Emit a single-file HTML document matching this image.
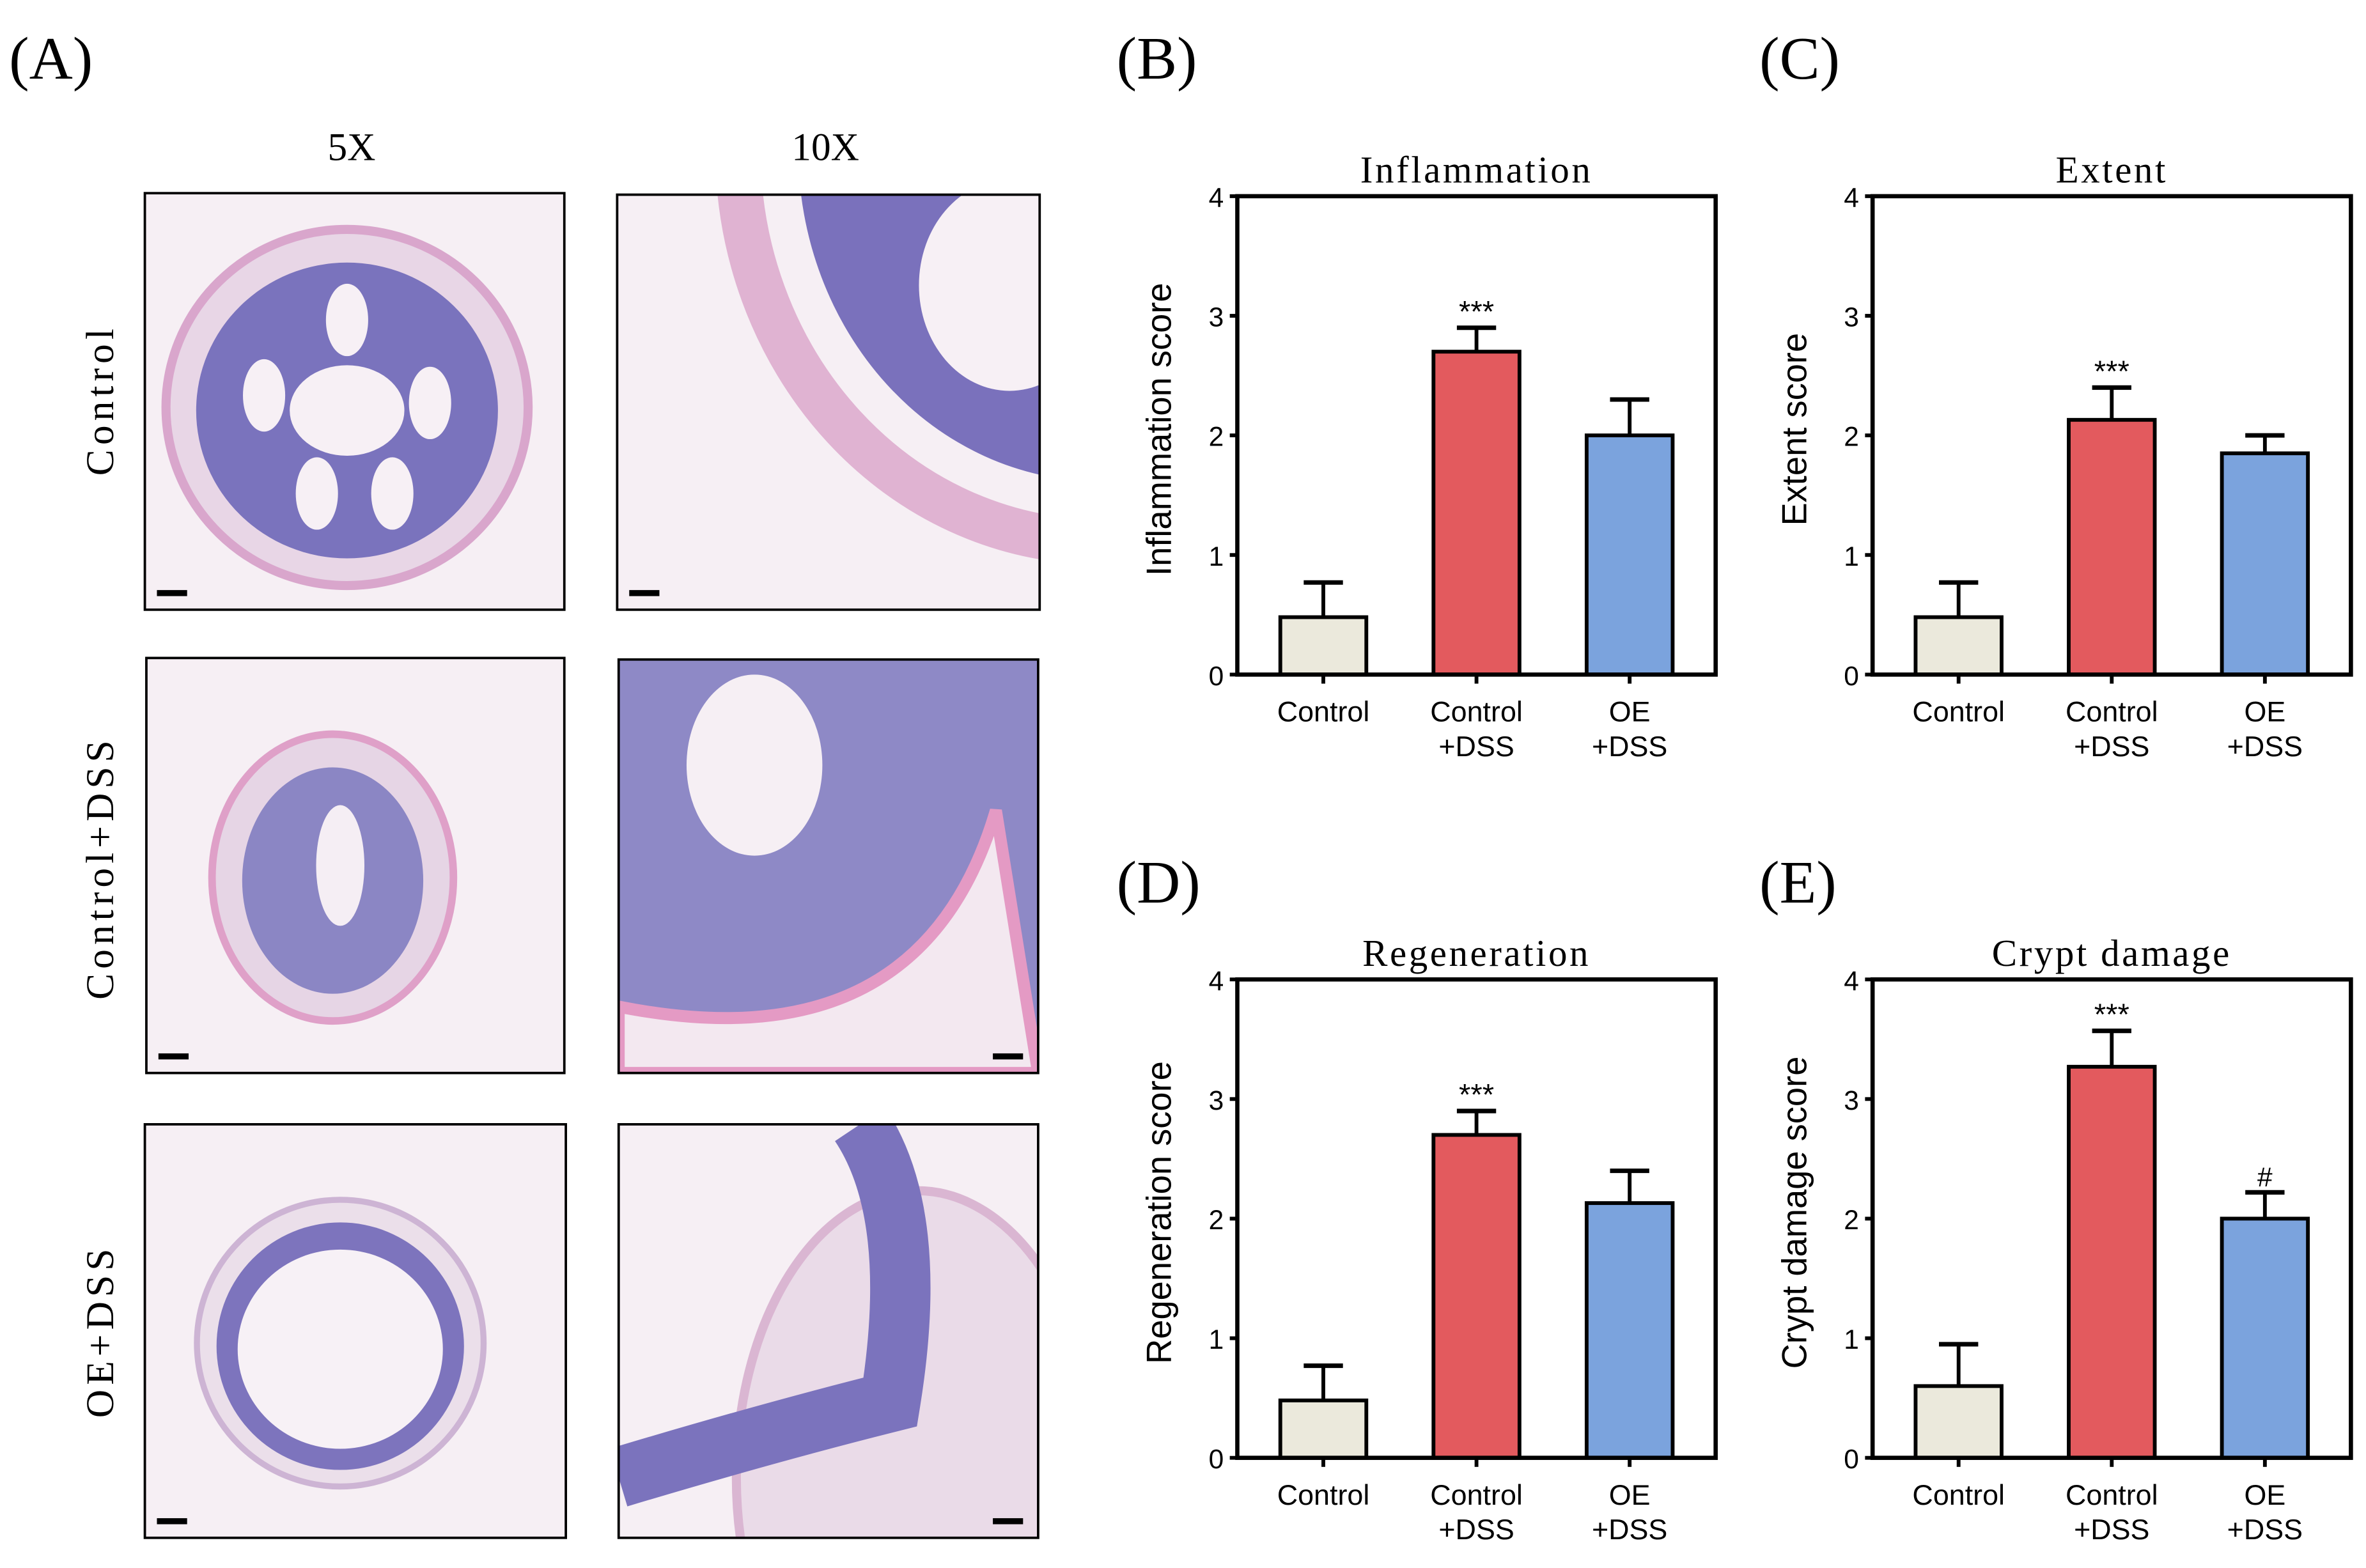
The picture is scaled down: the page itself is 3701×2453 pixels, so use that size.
<!DOCTYPE html>
<html><head><meta charset="utf-8"><style>
html,body{margin:0;padding:0;background:#fff;width:3701px;height:2453px;overflow:hidden;}
svg{display:block;}
</style></head><body>
<svg id="fig" width="3701" height="2453" viewBox="0 0 1568 1039" preserveAspectRatio="none" xmlns="http://www.w3.org/2000/svg">
<rect x="0" y="0" width="1568" height="1039" fill="#fff"/>
<g font-family="'Liberation Serif', serif" font-size="40" fill="#000">
<text x="6" y="52">(A)</text>
<text x="740" y="52">(B)</text>
<text x="1166" y="52">(C)</text>
<text x="740" y="598">(D)</text>
<text x="1166" y="598">(E)</text>
</g>
<g font-family="'Liberation Serif', serif" font-size="26" fill="#000" text-anchor="middle">
<text x="233" y="106">5X</text>
<text x="547" y="106">10X</text>
<text transform="translate(75,265) rotate(-90)" letter-spacing="3">Control</text>
<text transform="translate(75,575) rotate(-90)" letter-spacing="3">Control+DSS</text>
<text transform="translate(75,882) rotate(-90)" letter-spacing="3">OE+DSS</text>
</g>
<g id="histo"></g>
<g id="charts"></g>
</svg>
<script>
const NS="http://www.w3.org/2000/svg";
function mk(tag,attrs,parent){const e=document.createElementNS(NS,tag);for(const k in attrs)e.setAttribute(k,attrs[k]);parent.appendChild(e);return e;}
// ---------- histology panels ----------
const histo=document.getElementById('histo');
const panels=[
 {x:96,y:128,w:278,h:276,kind:'ring',bar:'bl',n:'histology-control-5x'},
 {x:409,y:129,w:280,h:275,kind:'zoom',bar:'bl',n:'histology-control-10x'},
 {x:97,y:436,w:277,h:275,kind:'ring2',bar:'bl',n:'histology-control-dss-5x'},
 {x:410,y:437,w:278,h:274,kind:'zoom2',bar:'br',n:'histology-control-dss-10x'},
 {x:96,y:745,w:279,h:274,kind:'ring3',bar:'bl',n:'histology-oe-dss-5x'},
 {x:410,y:745,w:278,h:274,kind:'zoom3',bar:'br',n:'histology-oe-dss-10x'}
];
panels.forEach(p=>{
 const g=mk('g',{},histo);
 
 
 const cid='clip'+p.n;
 const cp=mk('clipPath',{id:cid},g);mk('rect',{x:p.x,y:p.y,width:p.w,height:p.h},cp);
 mk('rect',{x:p.x,y:p.y,width:p.w,height:p.h,fill:'#f6eff4'},g);
 const t=mk('g',{'clip-path':'url(#'+cid+')'},g);
 const cx=p.x+p.w/2, cy=p.y+p.h/2;
 if(p.kind==='ring'){
  mk('ellipse',{cx:cx-5,cy:cy+4,rx:120,ry:118,fill:'#e8d6e6',stroke:'#d9a6cc','stroke-width':6},t);
  mk('ellipse',{cx:cx-5,cy:cy+6,rx:100,ry:98,fill:'#7a73bd'},t);
  [[0,-60],[-55,-10],[55,-5],[-20,55],[30,55],[0,0]].forEach(d=>mk('ellipse',{cx:cx-5+d[0],cy:cy+6+d[1],rx:d[0]==0&&d[1]==0?38:14,ry:d[0]==0&&d[1]==0?30:24,fill:'#f7f0f5'},t));
 } else if(p.kind==='ring2'){
  mk('ellipse',{cx:cx-15,cy:cy+8,rx:80,ry:95,fill:'#e6d5e5',stroke:'#dfa0c8','stroke-width':5},t);
  mk('ellipse',{cx:cx-15,cy:cy+10,rx:60,ry:75,fill:'#8b86c4'},t);
  mk('ellipse',{cx:cx-10,cy:cy,rx:16,ry:40,fill:'#f5eef4'},t);
 } else if(p.kind==='ring3'){
  mk('ellipse',{cx:cx-10,cy:cy+8,rx:95,ry:95,fill:'#ebdfea',stroke:'#cdb4d4','stroke-width':4},t);
  mk('ellipse',{cx:cx-10,cy:cy+10,rx:82,ry:82,fill:'#7d74bd'},t);
  mk('ellipse',{cx:cx-10,cy:cy+12,rx:68,ry:66,fill:'#f7f1f6'},t);
 } else if(p.kind==='zoom'){
  mk('ellipse',{cx:p.x+p.w+40,cy:p.y-30,rx:240,ry:260,fill:'none',stroke:'#e0b3d2','stroke-width':30},t);
  mk('ellipse',{cx:p.x+p.w+40,cy:p.y-30,rx:200,ry:220,fill:'#7a71bc'},t);
  mk('ellipse',{cx:p.x+p.w-20,cy:p.y+60,rx:60,ry:70,fill:'#f7f0f5'},t);
 } else if(p.kind==='zoom2'){
  mk('rect',{x:p.x,y:p.y,width:p.w,height:p.h,fill:'#8e89c6'},t);
  mk('ellipse',{cx:p.x+90,cy:p.y+70,rx:45,ry:60,fill:'#f6eff4'},t);
  mk('path',{d:`M${p.x} ${p.y+230} Q${p.x+200} ${p.y+270} ${p.x+250} ${p.y+100} L${p.x+p.w} ${p.y+p.h} L${p.x} ${p.y+p.h}Z`,fill:'#f3e8f0',stroke:'#e49ac4','stroke-width':8},t);
 } else {
  mk('ellipse',{cx:p.x+p.w-80,cy:p.y+p.h-40,rx:120,ry:190,fill:'#eadbe8',stroke:'#dab6d2','stroke-width':6},t);
  mk('path',{d:`M${p.x} ${p.y+p.h-40} Q${p.x+100} ${p.y+p.h-70} ${p.x+180} ${p.y+p.h-90} Q${p.x+200} ${p.y+60} ${p.x+160} ${p.y}`,fill:'none',stroke:'#7b73bd','stroke-width':40},t);
 }
 mk('rect',{x:p.x,y:p.y,width:p.w,height:p.h,fill:'none',stroke:'#000','stroke-width':1.6},g);
 const bx=p.bar==='bl'?p.x+8:p.x+p.w-30;
 const sb=mk('rect',{x:bx,y:p.y+p.h-13,width:20,height:4,fill:'#000'},g);
 
 
});
// ---------- chart data ----------
const categories=[["Control"],["Control","+DSS"],["OE","+DSS"]];
const yTicks=[0,1,2,3,4];
const inflammationMeans=[0.48,2.70,2.00];
const inflammationErr=[0.77,2.90,2.30];
const extentMeans=[0.48,2.13,1.85];
const extentErr=[0.77,2.40,2.00];
const regenerationMeans=[0.48,2.70,2.13];
const regenerationErr=[0.77,2.90,2.40];
const cryptMeans=[0.60,3.27,2.00];
const cryptErr=[0.95,3.57,2.22];
const inflammationMarks=["","***",""];
const extentMarks=["","***",""];
const regenerationMarks=["","***",""];
const cryptMarks=["","***","#"];
const barColors=["#ebe9dc","#e35a5e","#7ba3dd"];
const charts=[
 {n:'inflammation',title:'Inflammation',ylab:'Inflammation score',x0:820,y0:130,m:inflammationMeans,e:inflammationErr,s:inflammationMarks},
 {n:'extent',title:'Extent',ylab:'Extent score',x0:1241,y0:130,m:extentMeans,e:extentErr,s:extentMarks},
 {n:'regeneration',title:'Regeneration',ylab:'Regeneration score',x0:820,y0:649,m:regenerationMeans,e:regenerationErr,s:regenerationMarks},
 {n:'crypt-damage',title:'Crypt damage',ylab:'Crypt damage score',x0:1241,y0:649,m:cryptMeans,e:cryptErr,s:cryptMarks}
];
const root=document.getElementById('charts');
const W=317,H=317;
charts.forEach(c=>{
 const g=mk('g',{},root);
 
 
 const yS=v=>c.y0+H-v/4*H;
 const xS=i=>c.x0+57+i*101.5;
 const tt=mk('text',{x:c.x0+W/2,y:c.y0-9,'text-anchor':'middle','font-family':"'Liberation Serif', serif",'font-size':25,'letter-spacing':1.5},g);
 tt.textContent=c.title;
 
 
 const yl=mk('text',{transform:`translate(${c.x0-44},${c.y0+H/2-4}) rotate(-90)`,'text-anchor':'middle','font-family':"'Liberation Sans', sans-serif",'font-size':23},g);
 yl.textContent=c.ylab;
 
 
 yTicks.forEach(v=>{
  mk('line',{x1:c.x0-5,x2:c.x0,y1:yS(v),y2:yS(v),stroke:'#000','stroke-width':2.5},g);
  const tl=mk('text',{x:c.x0-9,y:yS(v)+7,'text-anchor':'end','font-family':"'Liberation Sans', sans-serif",'font-size':18},g);
  tl.textContent=v;
  
  
 });
 c.m.forEach((v,i)=>{
  const cx=xS(i),bw=57;
  const er=c.e[i];
  mk('line',{x1:cx,x2:cx,y1:yS(v),y2:yS(er),stroke:'#000','stroke-width':2.5},g);
  mk('line',{x1:cx-13,x2:cx+13,y1:yS(er),y2:yS(er),stroke:'#000','stroke-width':3},g);
  const b=mk('rect',{x:cx-bw/2,y:yS(v),width:bw,height:yS(0)-yS(v),fill:barColors[i],stroke:'#000','stroke-width':2.5},g);
  
  
  if(c.s[i]){
   const st=mk('text',{x:cx,y:yS(er)-4,'text-anchor':'middle','font-family':"'Liberation Sans', sans-serif",'font-size':c.s[i]==='#'?18:20},g);
   st.textContent=c.s[i];
   
   
  }
  mk('line',{x1:cx,x2:cx,y1:c.y0+H,y2:c.y0+H+6,stroke:'#000','stroke-width':2.5},g);
  categories[i].forEach((ln,k)=>{
   const xl=mk('text',{x:cx,y:c.y0+H+31+k*23,'text-anchor':'middle','font-family':"'Liberation Sans', sans-serif",'font-size':19},g);
   xl.textContent=ln;
   
   
  });
 });
 mk('rect',{x:c.x0,y:c.y0,width:W,height:H,fill:'none',stroke:'#000','stroke-width':2.8},g);
});
</script>
</body></html>
